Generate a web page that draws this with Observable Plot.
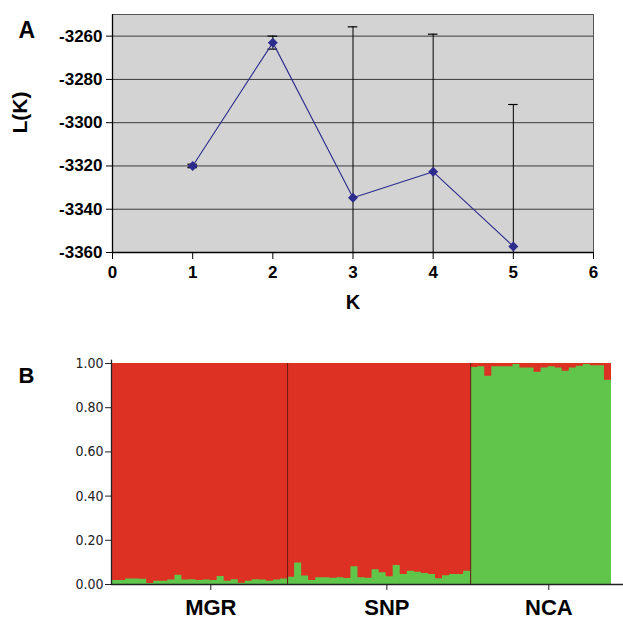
<!DOCTYPE html>
<html>
<head>
<meta charset="utf-8">
<script src="https://cdn.jsdelivr.net/npm/d3@7"></script>
<script src="https://cdn.jsdelivr.net/npm/@observablehq/plot@0.6"></script>
<style>
  html, body { margin: 0; padding: 0; background: #fff; }
  #wrap { position: relative; width: 623px; height: 623px; overflow: hidden; }
  #a { position: absolute; left: 0; top: 0; }
  #b { position: absolute; left: 0; top: 320px; }
</style>
</head>
<body>
<div id="wrap"><div id="a"></div><div id="b"></div></div>
<script>
// ---------- Panel A data ----------
const kValues = [1, 2, 3, 4, 5];
const lkMeans = [-3320, -3263, -3334.7, -3322.7, -3357.2];
const lkSD = [0.8, 3, 79, 63.6, 65.6];
const kTicks = [0, 1, 2, 3, 4, 5, 6];
const lkTicks = [-3360, -3340, -3320, -3300, -3280, -3260];

// ---------- Panel B data (green = cluster 2 membership) ----------
const groups = ["MGR", "SNP", "NCA"];
const mgrGreen = [0.018, 0.018, 0.025, 0.025, 0.024, 0.005, 0.015, 0.015, 0.02, 0.042, 0.02, 0.022, 0.018,
                  0.02, 0.018, 0.036, 0.015, 0.022, 0.006, 0.015, 0.022, 0.02, 0.015, 0.02, 0.025];
const snpGreen = [0.033, 0.097, 0.038, 0.018, 0.03, 0.03, 0.028, 0.03, 0.027, 0.08, 0.03, 0.028, 0.067,
                  0.053, 0.035, 0.086, 0.045, 0.06, 0.055, 0.05, 0.045, 0.026, 0.04, 0.045, 0.045, 0.06];
const ncaGreen = [0.982, 0.985, 0.942, 0.985, 0.985, 0.985, 0.995, 0.98, 0.98, 0.96, 0.98, 0.985, 0.98,
                  0.965, 0.98, 0.988, 0.995, 0.99, 0.99, 0.924];
const groupTickPos = [14.1, 39.1, 62.1];
const qTicks = [0, 0.2, 0.4, 0.6, 0.8, 1.0];

const boldFont = "'Liberation Sans', Arial, Helvetica, sans-serif";
const navy = "#2d2b8c";

// ---------- Panel A ----------
const dataA = kValues.map((k, i) => ({k, v: lkMeans[i], e: lkSD[i]}));
const plotA = Plot.plot({
  width: 623, height: 320,
  marginLeft: 112, marginRight: 30, marginTop: 14, marginBottom: 68,
  style: {fontFamily: boldFont, fontWeight: "bold", background: "#fff"},
  x: {domain: [0, 6]},
  y: {domain: [-3360, -3250]},
  marks: [
    Plot.frame({fill: "#d3d3d3", stroke: null}),
    Plot.ruleY(lkTicks, {stroke: "#3a3a3a", strokeWidth: 1}),
    Plot.frame({stroke: "#555", strokeWidth: 1}),
    Plot.ruleX([0], {stroke: "#000", strokeWidth: 1.3}),
    Plot.ruleY([-3360], {stroke: "#000", strokeWidth: 1.3}),
    Plot.axisY({ticks: lkTicks, tickFormat: d => String(d), tickSize: 6, tickPadding: 4, fontSize: 17, fontWeight: "bold", label: null, stroke: "#000", fill: "#000"}),
    Plot.axisX({ticks: kTicks, tickFormat: d => String(d), tickSize: 7, tickPadding: 6, fontSize: 17, fontWeight: "bold", label: null, stroke: "#000", fill: "#000"}),
    Plot.ruleX(dataA, {x: "k", y1: d => d.v - d.e, y2: d => d.v + d.e, stroke: "#000", strokeWidth: 1, clip: true}),
    Plot.ruleY(dataA, {y: d => d.v + d.e, x1: d => d.k - 0.06, x2: d => d.k + 0.06, stroke: "#000", strokeWidth: 1.2, clip: true}),
    Plot.ruleY(dataA, {y: d => d.v - d.e, x1: d => d.k - 0.06, x2: d => d.k + 0.06, stroke: "#000", strokeWidth: 1.2, clip: true}),
    Plot.line(dataA, {x: "k", y: "v", stroke: navy, strokeWidth: 1.1}),
    Plot.dot(dataA, {x: "k", y: "v", symbol: "diamond2", r: 4.5, fill: navy, stroke: null}),
    Plot.text(["K"], {text: d => d, frameAnchor: "bottom", dy: 56, fontSize: 20, fontWeight: "bold", fill: "#000"}),
    Plot.text(["L(K)"], {text: d => d, frameAnchor: "left", dx: -92, rotate: -90, fontSize: 21, fontWeight: "bold", fill: "#000"}),
    Plot.text(["A"], {text: d => d, frameAnchor: "top-left", dx: -94, dy: 7, fontSize: 23, fontWeight: "bold", fill: "#000"})
  ]
});
document.getElementById("a").appendChild(plotA);

// ---------- Panel B ----------
const allGreen = [...mgrGreen, ...snpGreen, ...ncaGreen];
const nInd = allGreen.length;
const steps = allGreen.map((g, i) => ({i, g}));
steps.push({i: nInd, g: allGreen[nInd - 1]});
const boundaries = [mgrGreen.length, mgrGreen.length + snpGreen.length];
const red = "#dd3124";
const green = "#5fc54b";
const narrowFont = "'Liberation Sans Narrow', 'DejaVu Sans Condensed', 'Arial Narrow', sans-serif";

const plotB = Plot.plot({
  width: 623, height: 303,
  marginLeft: 111, marginRight: 0, marginTop: 43, marginBottom: 39,
  style: {fontFamily: boldFont, background: "#fff"},
  x: {domain: [0, nInd * 512 / 500]},
  y: {domain: [0, 1]},
  marks: [
    Plot.rect([{x1: 0, x2: nInd}], {x1: "x1", x2: "x2", y1: 0, y2: 1, fill: red}),
    Plot.areaY(steps, {x: "i", y1: 0, y2: "g", curve: "step-after", fill: green}),
    Plot.ruleX(boundaries, {y1: 0, y2: 1, stroke: "#6a1a12", strokeWidth: 1}),
    Plot.ruleX([0], {y1: 0, y2: 1.015, stroke: "#222", strokeWidth: 1.3}),
    Plot.ruleY([0], {stroke: "#222", strokeWidth: 1.5}),
    Plot.axisY({ticks: qTicks, tickFormat: d3.format(".2f"), tickSize: 6, tickPadding: 2, fontSize: 14,
                fontFamily: narrowFont, label: null, stroke: "#222", fill: "#222"}),
    Plot.axisX({ticks: groupTickPos, tickFormat: (d, i) => groups[i], tickSize: 6, tickPadding: 9,
                fontSize: 22, fontWeight: "bold", label: null, stroke: "#222", fill: "#000"}),
    Plot.text(["B"], {text: d => d, frameAnchor: "top-left", dx: -93, dy: 4, fontSize: 22, fontWeight: "bold", fill: "#000"})
  ]
});
document.getElementById("b").appendChild(plotB);
</script>
</body>
</html>
